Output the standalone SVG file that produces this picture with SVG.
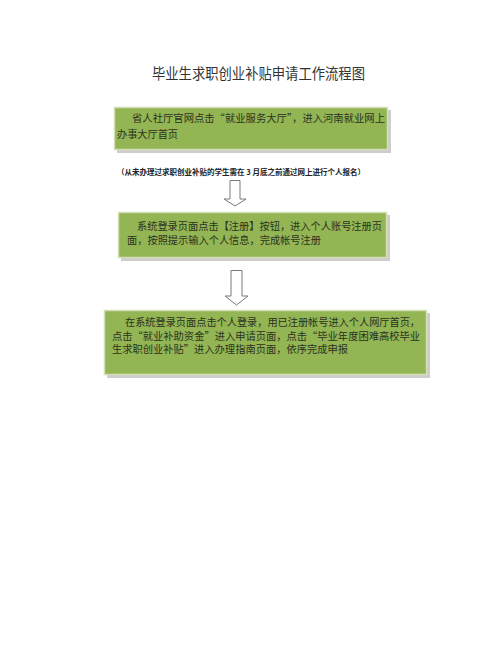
<svg xmlns="http://www.w3.org/2000/svg" width="500" height="657" viewBox="0 0 500 657">
<defs>
<style>
.bg{fill:#ffffff}
.shadow{fill:#b8b8b8;opacity:0.7}
.box{fill:#93b553;stroke:#d3e0b5;stroke-width:1.5}
.t{font-family:"Noto Sans CJK SC","Noto Sans",sans-serif;font-size:10.2px;fill:#2b321f}
.title{font-family:"Noto Sans CJK SC","Noto Sans",sans-serif;font-size:15px;fill:#333333}
.note{font-family:"Noto Sans CJK SC","Noto Sans",sans-serif;font-size:7.6px;font-weight:bold;fill:#222222}
.arrow{fill:#ffffff;stroke:#7a7a7a;stroke-width:1}
</style>
</defs>
<rect class="bg" x="0" y="0" width="500" height="657"/>
<text class="title" x="152" y="79" textLength="213" lengthAdjust="spacingAndGlyphs">毕业生求职创业补贴申请工作流程图</text>

<g id="node1">
<rect class="shadow" x="117" y="110" width="274" height="43"/>
<rect class="box" x="114.5" y="107.5" width="273" height="42"/>
<text class="t" x="132" y="122" textLength="253" lengthAdjust="spacingAndGlyphs">省人社厅官网点击“就业服务大厅”，进入河南就业网上</text>
<text class="t" x="117" y="138" textLength="61" lengthAdjust="spacingAndGlyphs">办事大厅首页</text>
</g>

<g id="note">
<text class="note" x="117" y="175" textLength="248" lengthAdjust="spacingAndGlyphs">（从未办理过求职创业补贴的学生需在 3 月底之前通过网上进行个人报名）</text>
</g>

<g id="node2">
<rect class="shadow" x="121" y="215" width="269" height="46"/>
<rect class="box" x="118.5" y="212.5" width="268" height="45"/>
<text class="t" x="137" y="229.5" textLength="245" lengthAdjust="spacingAndGlyphs">系统登录页面点击【注册】按钮，进入个人账号注册页</text>
<text class="t" x="127" y="243.5" textLength="194" lengthAdjust="spacingAndGlyphs">面，按照提示输入个人信息，完成帐号注册</text>
</g>

<g id="node3">
<rect class="shadow" x="107" y="313" width="323" height="65"/>
<rect class="box" x="104.5" y="310.5" width="322" height="64"/>
<text class="t" x="125" y="326" textLength="295" lengthAdjust="spacingAndGlyphs">在系统登录页面点击个人登录，用已注册帐号进入个人网厅首页，</text>
<text class="t" x="112" y="339.5" textLength="308" lengthAdjust="spacingAndGlyphs">点击“就业补助资金”进入申请页面，点击“毕业年度困难高校毕业</text>
<text class="t" x="112" y="353" textLength="236" lengthAdjust="spacingAndGlyphs">生求职创业补贴”进入办理指南页面，依序完成申报</text>
</g>

<g id="connectors">
<path class="arrow" d="M230,180.5 H240 V199 H246 L235,206 L224,199 H230 Z"/>
<path class="arrow" d="M231,270.5 H242 V296 H248 L236.5,305 L225,296 H231 Z"/>
</g>
</svg>
